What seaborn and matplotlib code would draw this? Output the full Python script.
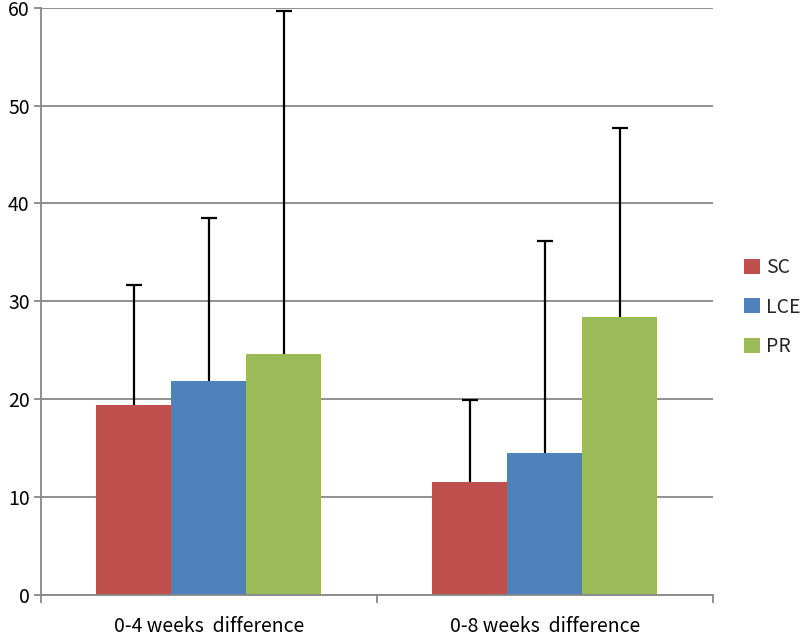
import numpy as np
import pandas as pd
import matplotlib
matplotlib.use("Agg")
import matplotlib.pyplot as plt
import seaborn as sns

# values
categories = ["0-4 weeks  difference", "0-8 weeks  difference"]
series = ["SC", "LCE", "PR"]
sc_mean = [19.4, 11.5]
lce_mean = [21.9, 14.5]
pr_mean = [24.6, 28.4]
sc_err = [12.3, 8.4]
lce_err = [16.6, 21.7]
pr_err = [35.1, 19.3]
colors = ["#C0504D", "#4F81BD", "#9BBB59"]
y_ticks = [0, 10, 20, 30, 40, 50, 60]

means = [sc_mean, lce_mean, pr_mean]
errs = [sc_err, lce_err, pr_err]
rows = []
for s, m, e in zip(series, means, errs):
    for c, mv, ev in zip(categories, m, e):
        rows.append({"category": c, "series": s, "value": mv, "err": ev})
df = pd.DataFrame(rows)

sns.set_theme(style="white")
plt.rcParams["font.family"] = ["Noto Sans CJK KR", "DejaVu Sans"]
FS = 14

fig = plt.figure(figsize=(8, 6.37), dpi=100)
ax = fig.add_axes([0.051, 0.066, 0.84, 0.922])

sns.barplot(data=df, x="category", y="value", hue="series", hue_order=series,
            order=categories, palette=colors, width=0.67, errorbar=None,
            saturation=1, ax=ax, zorder=2)

# upward-only error bars with a cap at the top only
for patch_group, s in zip(ax.containers, series):
    sub = df[df["series"] == s].set_index("category").loc[categories]
    xs = [p.get_x() + p.get_width() / 2 for p in patch_group]
    tops = sub["value"] + sub["err"]
    ax.vlines(xs, sub["value"], tops, color="black", linewidth=1.6, zorder=3)
    ax.plot(xs, tops, linestyle="none", marker="_", markersize=12,
            markeredgewidth=1.6, color="black", zorder=3, clip_on=False)

for p in ax.patches:
    p.set_edgecolor("none")

ax.set_ylim(0, 60)
ax.set_xlim(-0.5, 1.5)
ax.set_yticks(y_ticks)
ax.yaxis.grid(True, color="#888888", linewidth=1.3, zorder=0)
ax.set_axisbelow(True)
ax.set_xlabel("")
ax.set_ylabel("")

for side in ["top", "right"]:
    ax.spines[side].set_visible(False)
for side in ["left", "bottom"]:
    ax.spines[side].set_color("#888888")
    ax.spines[side].set_linewidth(1.3)

ax.tick_params(axis="y", which="major", left=True, length=5, width=1.3,
               color="#888888", labelsize=FS, pad=3, labelcolor="black")
ax.tick_params(axis="x", which="major", bottom=False, labelsize=FS, pad=9,
               labelcolor="black")
ax.set_xticks([-0.5, 0.5, 1.5], minor=True)
ax.tick_params(axis="x", which="minor", bottom=True, length=6, width=1.3,
               color="#888888")

handles, labels = ax.get_legend_handles_labels()
ax.legend(handles, labels, loc="center left", bbox_to_anchor=(1.035, 0.49),
          frameon=False, fontsize=FS, handlelength=0.8, handleheight=0.8,
          handletextpad=0.35, labelspacing=0.95, borderaxespad=0)

fig.savefig("out.png", dpi=100)
